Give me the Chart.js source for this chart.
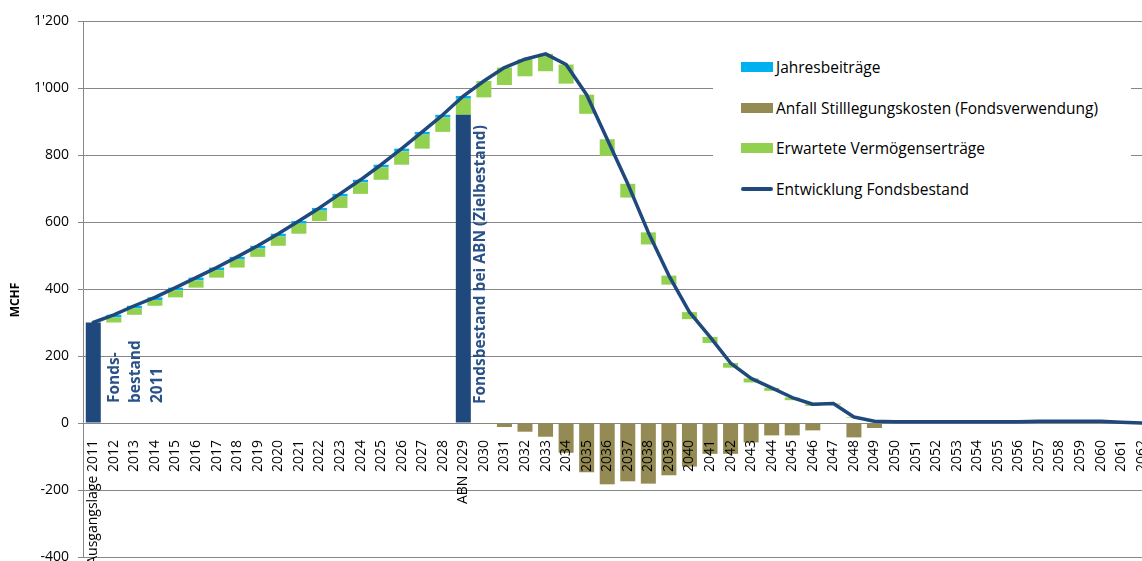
<!DOCTYPE html>
<html>
<head>
<meta charset="utf-8">
<script src="https://cdn.jsdelivr.net/npm/chart.js@4.4.1/dist/chart.umd.min.js"></script>
<style>
  html, body { margin: 0; padding: 0; background: #fff; width: 1142px; height: 561px; overflow: hidden; }
  #wrap { position: relative; width: 1152px; height: 570px; }
  #chart { display: block; }
  #legend { position: absolute; left: 713px; top: 44px; width: 418px; height: 168px; background: #fff;
            font-family: "Open Sans", sans-serif; font-size: 15.5px; color: #000; }
  .lg-item { position: absolute; left: 28px; height: 24px; display: flex; align-items: center; white-space: nowrap; }
  .lg-box { width: 32px; height: 10px; margin-right: 3px; }
  .lg-line { width: 32px; height: 4px; border-radius: 2px; margin-right: 3px; }
</style>
</head>
<body>
<div id="wrap">
  <canvas id="chart" width="1152" height="570" style="width:1152px;height:570px"></canvas>
  <div id="legend"></div>
</div>
<script>
// ---- categories (tick labels) ----
const years = ['Ausgangslage 2011','2012','2013','2014','2015','2016','2017','2018','2019','2020',
  '2021','2022','2023','2024','2025','2026','2027','2028','ABN 2029','2030',
  '2031','2032','2033','2034','2035','2036','2037','2038','2039','2040',
  '2041','2042','2043','2044','2045','2046','2047','2048','2049','2050',
  '2051','2052','2053','2054','2055','2056','2057','2058','2059','2060',
  '2061','2062'];

// ---- Entwicklung Fondsbestand (MCHF) ----
const fundLevel = [300,323,350,375,404,434,464,496,529,565,
  603,642,684,726,771,819,869,920,976,1021,
  1061,1086,1102,1070,980,847,714,569,440,331,
  257,179,133,105,76,56,58,18,5,4,
  4,4,4,4,4,4,5,5,5,5,
  2,0];

// ---- Jahresbeiträge (MCHF) ----
const contributions = [0,8,8,8,8,8,8,8,8,8,
  8,8,8,8,8,8,8,8,8,0,
  0,0,0,0,0,0,0,0,0,0,
  0,0,0,0,0,0,0,0,0,0,
  0,0,0,0,0,0,0,0,0,0,
  0,0];

// ---- Erwartete Vermögenserträge (MCHF) ----
const returns = [0,15,19,17,21,22,22,24,25,28,
  30,31,34,34,37,40,42,43,48,49,
  52,51,52,57,57,50,41,36,27,21,
  18,14,12,9,8,5,3,2,1,0,
  0,0,0,0,0,0,0,0,0,0,
  0,0];

// ---- Anfall Stilllegungskosten (MCHF) ----
const costs = [0,0,0,0,0,0,0,0,0,0,
  0,0,0,0,0,0,0,0,0,-3,
  -12,-26,-41,-89,-147,-183,-174,-181,-156,-130,
  -92,-92,-58,-37,-37,-22,0,-43,-15,0,
  0,0,0,0,0,0,0,0,0,0,
  0,0];

// ---- Fondsbestand 2011 / Zielbestand bei ABN ----
const milestoneFund = [300,null,null,null,null,null,null,null,null,null,
  null,null,null,null,null,null,null,null,920,null,
  null,null,null,null,null,null,null,null,null,null,
  null,null,null,null,null,null,null,null,null,null,
  null,null,null,null,null,null,null,null,null,null,
  null,null];

// ---- texts ----
const yTitle = 'MCHF';
const noteStart = ['Fonds-', 'bestand', '2011'];
const noteTarget = 'Fondsbestand bei ABN (Zielbestand)';
const seriesNames = {
  contrib: 'Jahresbeiträge',
  costs: 'Anfall Stilllegungskosten (Fondsverwendung)',
  returns: 'Erwartete Vermögenserträge',
  fund: 'Entwicklung Fondsbestand'
};

// ---- derived floating bars (waterfall) ----
const greenBars = fundLevel.map((v, i) => returns[i] > 0 ? [v - contributions[i] - returns[i], v - contributions[i]] : null);
const cyanBars = fundLevel.map((v, i) => contributions[i] > 0 ? [v - contributions[i], v] : null);
const costBars = costs.map(c => c < 0 ? c : null);

const C = {
  navy: '#1F497D', cyan: '#00B0F0', olive: '#948A54', green: '#92D050',
  grid: '#878787', note: '#2A5289', text: '#000000'
};
const FONT = '"Open Sans", sans-serif';

const barCommon = { type: 'bar', grouped: false, barPercentage: 0.73, categoryPercentage: 1.0, order: 1, borderWidth: 0 };

const drawRot = (ctx, text, x, y) => {
  ctx.save();
  ctx.translate(x, y);
  ctx.rotate(-Math.PI / 2);
  ctx.fillText(text, 0, 0);
  ctx.restore();
};

const notesPlugin = {
  id: 'notes',
  afterDatasetsDraw(chart) {
    const { ctx, chartArea } = chart;
    const xs = chart.scales.x, ys = chart.scales.y;
    const base = ys.getPixelForValue(0);
    ctx.save();
    ctx.fillStyle = C.note;
    ctx.font = 'bold 15.5px ' + FONT;
    ctx.textBaseline = 'middle';
    ctx.textAlign = 'left';
    noteStart.forEach((t, k) => drawRot(ctx, t, xs.getPixelForValue(0) + 21 + k * 21.5, base - 20));
    drawRot(ctx, noteTarget, xs.getPixelForValue(18) + 17.5, base - 19);
    ctx.fillStyle = C.text;
    ctx.font = 'bold 12px ' + FONT;
    ctx.textAlign = 'center';
    drawRot(ctx, yTitle, 16, (chartArea.top + chartArea.bottom) / 2 + 11);
    ctx.restore();
  }
};

const chart = new Chart(document.getElementById('chart'), {
  data: {
    labels: years,
    datasets: [
      { type: 'line', key: 'fund', label: seriesNames.fund, data: fundLevel, borderColor: C.navy, backgroundColor: C.navy,
        borderWidth: 3.5, pointRadius: 0, tension: 0, borderJoinStyle: 'round', borderCapStyle: 'round', order: 0 },
      { ...barCommon, key: 'milestone', label: 'Fondsbestand', data: milestoneFund, backgroundColor: C.navy },
      { ...barCommon, key: 'returns', label: seriesNames.returns, data: greenBars, backgroundColor: C.green },
      { ...barCommon, key: 'contrib', label: seriesNames.contrib, data: cyanBars, backgroundColor: C.cyan },
      { ...barCommon, key: 'costs', label: seriesNames.costs, data: costBars, backgroundColor: C.olive }
    ]
  },
  options: {
    responsive: false,
    animation: false,
    layout: { padding: { top: 21, left: 0, right: 0, bottom: 13 } },
    plugins: { legend: { display: false }, tooltip: { enabled: false } },
    scales: {
      x: {
        type: 'category',
        position: { y: 0 },
        offset: true,
        grid: { display: false },
        border: { display: false },
        ticks: { z: 1, autoSkip: false, minRotation: 90, maxRotation: 90, padding: 9, color: C.text, font: { family: FONT, size: 14 } },
        afterFit: s => { s.height = 0; s.paddingLeft = 0; s.paddingRight = 0; s.paddingTop = 0; s.paddingBottom = 0; }
      },
      y: {
        min: -400, max: 1200,
        grid: { color: C.grid, lineWidth: 1, tickLength: 5, drawTicks: true },
        border: { display: true, color: C.grid, width: 1 },
        ticks: {
          stepSize: 200, padding: 9, color: C.text, font: { family: FONT, size: 14 },
          callback: v => String(v).replace(/\B(?=(\d{3})+(?!\d))/g, "'")
        },
        afterFit: s => { s.width = 83; s.paddingTop = 0; s.paddingBottom = 0; }
      }
    }
  },
  plugins: [notesPlugin]
});

// ---- HTML legend built from the datasets ----
const legendOrder = ['contrib', 'costs', 'returns', 'fund'];
const legendEl = document.getElementById('legend');
legendOrder.forEach((key, i) => {
  const ds = chart.data.datasets.find(d => d.key === key);
  const row = document.createElement('div');
  row.className = 'lg-item';
  row.style.top = (11 + i * 40.7) + 'px';
  const sw = document.createElement('span');
  sw.className = ds.type === 'line' ? 'lg-line' : 'lg-box';
  sw.style.background = ds.type === 'line' ? ds.borderColor : ds.backgroundColor;
  const tx = document.createElement('span');
  tx.textContent = ds.label;
  row.appendChild(sw); row.appendChild(tx);
  legendEl.appendChild(row);
});
</script>
</body>
</html>
